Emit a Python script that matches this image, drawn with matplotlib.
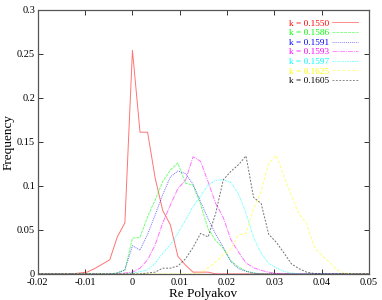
import matplotlib
matplotlib.use("Agg")
import matplotlib.pyplot as plt
import numpy as np

plt.rcParams['font.family'] = ['Liberation Serif', 'DejaVu Serif']

# bin positions (Re Polyakov)
x_bins = [-0.02,
          -0.0128, -0.0112, -0.0096, -0.008, -0.0064, -0.0048, -0.0032, -0.0016,
          0.0, 0.0016, 0.0032, 0.0048, 0.0064, 0.008, 0.0096, 0.0112, 0.0128,
          0.0144, 0.016, 0.0176, 0.0192, 0.0208, 0.0224, 0.024, 0.0256, 0.0272,
          0.0288, 0.0304, 0.032, 0.0336, 0.0352, 0.0368, 0.0384, 0.04, 0.0416,
          0.0432, 0.0448, 0.0464, 0.048,
          0.05]

f_1550 = [0,
          0, 0.001, 0.002, 0.006, 0.011, 0.016, 0.042, 0.058,
          0.254, 0.161, 0.161, 0.109, 0.072, 0.056, 0.020, 0.010, 0.002,
          0.002, 0.002, 0, 0, 0, 0, 0, 0, 0,
          0, 0, 0, 0, 0, 0, 0, 0, 0,
          0, 0, 0, 0,
          0]
f_1586 = [0,
          0, 0, 0, 0, 0, 0, 0.001, 0.0045,
          0.0406, 0.0415, 0.065, 0.084, 0.105, 0.118, 0.126, 0.103, 0.101,
          0.079, 0.051, 0.038, 0.029, 0.015, 0.008, 0.003, 0.001, 0,
          0, 0, 0, 0, 0, 0, 0, 0, 0,
          0, 0, 0, 0,
          0]
f_1591 = [0,
          0, 0, 0, 0, 0, 0, 0.001, 0.0045,
          0.032, 0.027, 0.045, 0.067, 0.090, 0.110, 0.117, 0.114, 0.102,
          0.082, 0.0625, 0.045, 0.030, 0.014, 0.006, 0.003, 0.001, 0,
          0, 0, 0, 0, 0, 0, 0, 0, 0,
          0, 0, 0, 0,
          0]
f_1593 = [0,
          0, 0, 0, 0, 0, 0, 0, 0.001,
          0.002, 0.0065, 0.016, 0.033, 0.058, 0.078, 0.097, 0.106, 0.133,
          0.128, 0.1045, 0.080, 0.064, 0.039, 0.025, 0.0125, 0.007, 0.004,
          0.002, 0.0006, 0, 0, 0, 0, 0, 0, 0,
          0, 0, 0, 0,
          0]
f_1597 = [0,
          0, 0, 0, 0, 0, 0, 0, 0,
          0.001, 0.0026, 0.0045, 0.012, 0.0235, 0.033, 0.046, 0.061, 0.0765,
          0.0886, 0.101, 0.1065, 0.107, 0.104, 0.091, 0.069, 0.0415, 0.0235,
          0.012, 0.0068, 0.003, 0.001, 0, 0, 0, 0, 0,
          0, 0, 0, 0,
          0]
f_1625 = [0,
          0, 0, 0, 0, 0, 0, 0, 0,
          0, 0, 0, 0, 0, 0, 0, 0, 0,
          0.001, 0.007, 0.0136, 0.0216, 0.028, 0.0443, 0.046, 0.074, 0.094,
          0.126, 0.1347, 0.111, 0.0886, 0.068, 0.0576, 0.0307, 0.021, 0.0136,
          0.0045, 0.001, 0, 0,
          0]
f_1605 = [0,
          0, 0, 0, 0, 0, 0, 0, 0,
          0, 0, 0.001, 0.002, 0.0065, 0.0065, 0.009, 0.017, 0.030,
          0.046, 0.042, 0.069, 0.107, 0.1165, 0.124, 0.134, 0.087, 0.080,
          0.045, 0.036, 0.024, 0.0114, 0.006, 0.002, 0.0005, 0, 0,
          0, 0, 0, 0,
          0]

labels = ["k = 0.1550", "k = 0.1586", "k = 0.1591", "k = 0.1593",
          "k = 0.1597", "k = 0.1625", "k = 0.1605"]
series = [f_1550, f_1586, f_1591, f_1593, f_1597, f_1625, f_1605]
colors = ['#ff0000', '#00ff00', '#0000ff', '#ff00ff', '#00ffff', '#ffff00', '#000000']
styles = ['-', (0, (3, 1)), (0, (1, 1)), (0, (5, 1, 1, 1)), (0, (2, 1, 1, 1)),
          (0, (3, 2)), (0, (2, 1.5))]

x_ticks = [-0.02, -0.01, 0, 0.01, 0.02, 0.03, 0.04, 0.05]
x_tick_labels = ["-0.02", "-0.01", "0", "0.01", "0.02", "0.03", "0.04", "0.05"]
y_ticks = [0, 0.05, 0.1, 0.15, 0.2, 0.25, 0.3]
y_tick_labels = ["0", "0.05", "0.1", "0.15", "0.2", "0.25", "0.3"]

fig = plt.figure(figsize=(3.82, 3.0), dpi=100)
ax = fig.add_axes([0.099, 0.087, 0.867, 0.880])

for y, lab, c, ls in zip(series, labels, colors, styles):
    ax.plot(x_bins, y, color=c, ls=ls, lw=0.7, alpha=0.55, label=lab)

ax.set_xlim(-0.02, 0.05)
ax.set_ylim(0, 0.3)
ax.set_xticks(x_ticks)
ax.set_xticklabels(x_tick_labels)
ax.set_yticks(y_ticks)
ax.set_yticklabels(y_tick_labels)
ax.tick_params(direction='in', top=True, right=True, length=3.5, width=0.7,
               labelsize=7.5, color='#333333')
ax.tick_params(axis='x', pad=3)
ax.tick_params(axis='y', pad=2)
for s in ax.spines.values():
    s.set_color('#555555')
    s.set_linewidth(0.9)

ax.set_xlabel("Re Polyakov", fontsize=9.5, labelpad=1)
ax.set_ylabel("Frequency", fontsize=9.5, labelpad=2)

leg = ax.legend(loc='upper right', frameon=False, markerfirst=False,
                fontsize=6.7, handlelength=2.7, handletextpad=0.3,
                labelspacing=0.12, borderaxespad=0.3,
                bbox_to_anchor=(0.985, 0.99))
for t, c in zip(leg.get_texts(), colors):
    t.set_color(c)
for h in leg.get_lines():
    h.set_alpha(0.45)

fig.savefig("out.png", dpi=100)
